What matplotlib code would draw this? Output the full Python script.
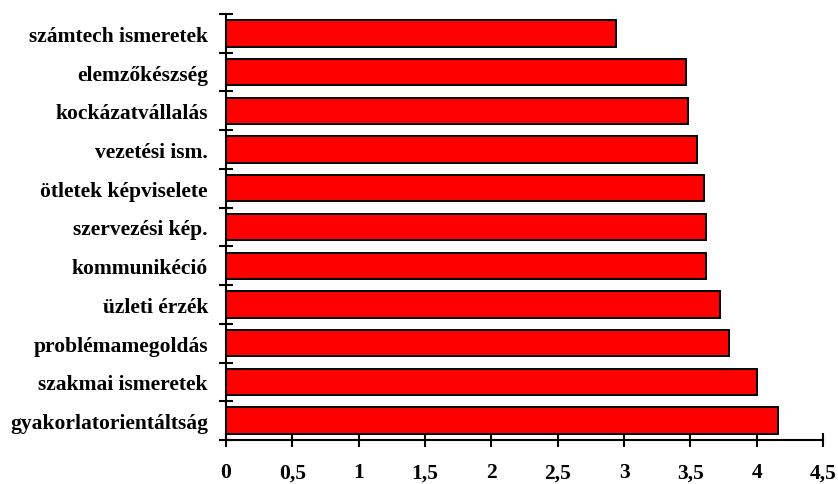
import numpy as np
import matplotlib.pyplot as plt
from matplotlib.ticker import FixedLocator, FuncFormatter

# categories listed from top to bottom
labels = ["számtech ismeretek", "elemzőkészség", "kockázatvállalás", "vezetési ism.",
          "ötletek képviselete", "szervezési kép.", "kommunikéció", "üzleti érzék",
          "problémamegoldás", "szakmai ismeretek", "gyakorlatorientáltság"]
values = [2.94, 3.47, 3.48, 3.55, 3.60, 3.62, 3.62, 3.72, 3.79, 4.00, 4.16]
xticks = [0, 0.5, 1, 1.5, 2, 2.5, 3, 3.5, 4, 4.5]

plt.rcParams['font.family'] = ['Liberation Serif', 'DejaVu Serif']
plt.rcParams['font.weight'] = 'bold'

fig = plt.figure(figsize=(8.38, 4.85), dpi=100)
ax = fig.add_axes([226/838, 1 - 441/485, (823 - 226)/838, (441 - 15)/485])

n = len(labels)
ypos = np.arange(n)[::-1]
ax.barh(ypos, values, height=0.68, color='#ff0000', edgecolor='black', linewidth=1.4)

ax.set_xlim(0, 4.5)
ax.set_ylim(-0.5, n - 0.5)
ax.set_xticks(xticks)
ax.xaxis.set_major_formatter(FuncFormatter(lambda v, p: f"{v:g}".replace('.', ',')))
ax.set_yticks(ypos)
ax.set_yticklabels(labels)
ax.yaxis.set_minor_locator(FixedLocator(np.arange(n + 1) - 0.5))

ax.tick_params(axis='y', which='major', length=0, pad=13, labelsize=15.5)
ax.tick_params(axis='y', which='minor', direction='inout', length=10, width=1.5)
ax.tick_params(axis='x', direction='inout', length=10, width=1.5, pad=11, labelsize=15.5)

for s in ['top', 'right']:
    ax.spines[s].set_visible(False)
for s in ['left', 'bottom']:
    ax.spines[s].set_linewidth(1.5)

fig.savefig("out.png", dpi=100)
